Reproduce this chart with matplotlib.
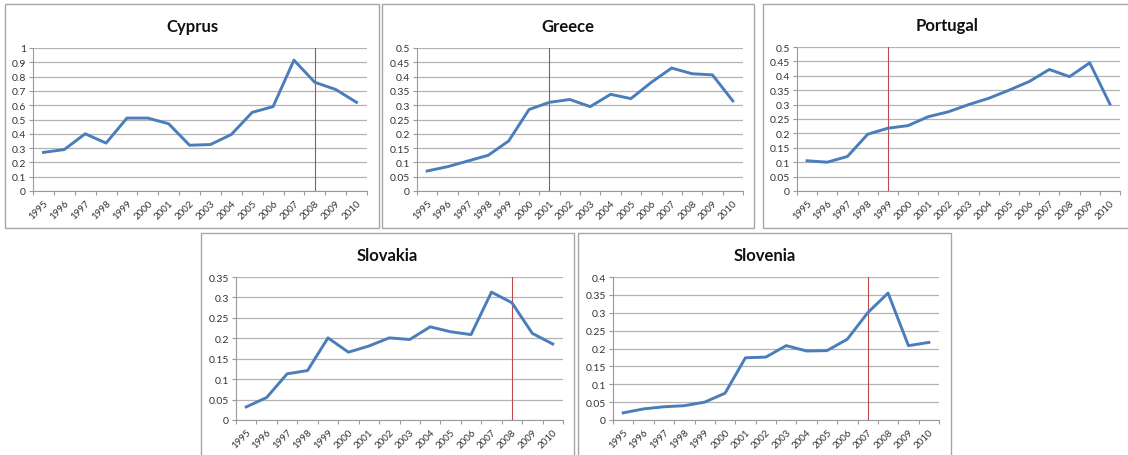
"""
Five small Excel-style line charts (Cyprus, Greece, Portugal, Slovakia, Slovenia),
each with a red vertical marker year.
"""
import matplotlib
matplotlib.use("Agg")
import matplotlib.pyplot as plt
from matplotlib.patches import Rectangle
import matplotlib.ticker as mticker

W, H = 1128, 456

YEARS = [str(y) for y in range(1995, 2011)]

CYPRUS = [0.27, 0.29, 0.40, 0.335, 0.51, 0.51, 0.47, 0.32, 0.325, 0.395,
          0.55, 0.59, 0.915, 0.76, 0.71, 0.62]
GREECE = [0.07, 0.085, 0.105, 0.125, 0.175, 0.285, 0.31, 0.32, 0.295, 0.338,
          0.323, 0.38, 0.43, 0.41, 0.406, 0.315]
PORTUGAL = [0.105, 0.10, 0.12, 0.197, 0.218, 0.227, 0.258, 0.275, 0.30, 0.322,
            0.35, 0.38, 0.422, 0.397, 0.445, 0.302]
SLOVAKIA = [0.032, 0.055, 0.113, 0.121, 0.201, 0.166, 0.181, 0.201, 0.197, 0.228,
            0.216, 0.209, 0.313, 0.287, 0.212, 0.186]
SLOVENIA = [0.02, 0.031, 0.037, 0.04, 0.05, 0.075, 0.174, 0.176, 0.208, 0.193,
            0.194, 0.226, 0.30, 0.355, 0.208, 0.217]

MARKER_YEAR = {"Cyprus": "2008", "Greece": "2001", "Portugal": "1999",
               "Slovakia": "2008", "Slovenia": "2007"}
Y_MAX = {"Cyprus": 1.0, "Greece": 0.5, "Portugal": 0.5,
         "Slovakia": 0.35, "Slovenia": 0.4}
Y_STEP = {"Cyprus": 0.1, "Greece": 0.05, "Portugal": 0.05,
          "Slovakia": 0.05, "Slovenia": 0.05}

SERIES = {"Cyprus": CYPRUS, "Greece": GREECE, "Portugal": PORTUGAL,
          "Slovakia": SLOVAKIA, "Slovenia": SLOVENIA}

# pixel layout: (frame x0, y0, x1, y1), (plot x0, y0, x1, y1)
LAYOUT = {
    "Cyprus":   ((5, 5, 379, 229),   (33, 49, 367, 192)),
    "Greece":   ((382, 5, 754, 229), (417, 49, 743, 192)),
    "Portugal": ((763, 5, 1132, 229), (797, 48, 1120, 192)),
    "Slovakia": ((201, 234, 574, 460), (236, 278, 563, 421)),
    "Slovenia": ((578, 234, 951, 460), (613, 278, 939, 421)),
}

LINE_BLUE = "#4a7ebb"
MARK_RED = "#bf4a4c"
GRID = "#b3b3b3"
AXIS = "#9a9a9a"
TEXT = "#333333"

plt.rcParams["font.family"] = ["Lato", "DejaVu Sans"]

fig = plt.figure(figsize=(W / 100, H / 100), dpi=100)


def fig_box(x0, y0, x1, y1):
    return [x0 / W, 1 - y1 / H, (x1 - x0) / W, (y1 - y0) / H]


for name, values in SERIES.items():
    frame, plot = LAYOUT[name]
    fx = fig_box(*frame)
    fig.patches.append(Rectangle((fx[0], fx[1]), fx[2], fx[3],
                                 transform=fig.transFigure, fill=False,
                                 edgecolor="#a6a6a6", lw=1.0))

    ax = fig.add_axes(fig_box(*plot))
    xs = list(range(len(YEARS)))
    ax.plot(xs, values, color=LINE_BLUE, lw=2.1, solid_joinstyle="round", zorder=4)
    mx = YEARS.index(MARKER_YEAR[name])
    ax.axvline(mx, color=MARK_RED, lw=0.8, zorder=3)

    ymax, step = Y_MAX[name], Y_STEP[name]
    n = int(round(ymax / step))
    yt = [round(i * step, 4) for i in range(n + 1)]
    ax.set_ylim(0, ymax)
    ax.set_xlim(-0.5, len(YEARS) - 0.5)
    ax.set_yticks(yt)
    ax.yaxis.set_major_formatter(mticker.FuncFormatter(lambda v, _: f"{v:g}"))
    ax.grid(True, axis="y", color=GRID, lw=0.9)
    ax.set_axisbelow(True)

    # category axis: ticks between categories, labels centered
    ax.set_xticks([i - 0.5 for i in range(len(YEARS) + 1)])
    ax.set_xticklabels([])
    ax.set_xticks(xs, minor=True)
    ax.set_xticklabels(YEARS, minor=True, rotation=45, ha="right", va="top",
                       rotation_mode="anchor", fontsize=7, color=TEXT)
    ax.tick_params(axis="x", which="major", length=3, color=AXIS, width=0.8)
    ax.tick_params(axis="x", which="minor", length=0, pad=5)
    ax.tick_params(axis="y", length=3, color=AXIS, width=0.8, labelsize=7.5,
                   labelcolor=TEXT, pad=2)

    for side in ("top", "right"):
        ax.spines[side].set_visible(False)
    for side in ("left", "bottom"):
        ax.spines[side].set_color(AXIS)
        ax.spines[side].set_linewidth(0.8)

    tx = (frame[0] + frame[2]) / 2 / W
    ty = 1 - (plot[1] - 22) / H
    fig.text(tx, ty, name, ha="center", va="center", fontsize=12,
             fontweight="bold", color="#111111")

fig.savefig("out.png", dpi=100)
